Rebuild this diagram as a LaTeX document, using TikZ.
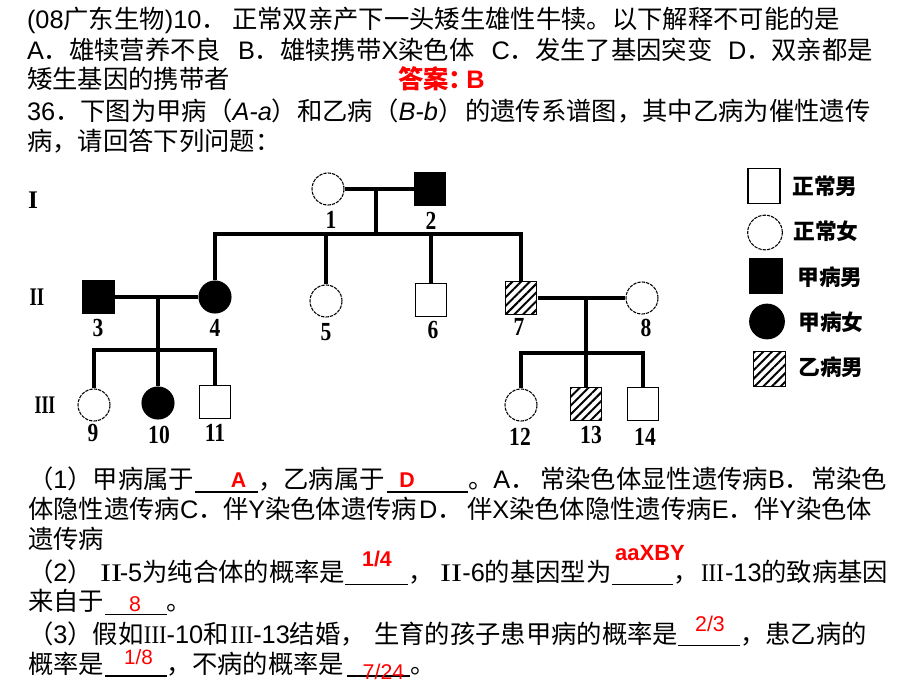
\documentclass[tikz,border=0pt]{standalone}
\usepackage{graphicx}
\usepackage{fontspec}
\setmainfont{Noto Sans CJK SC}
\newfontfamily\en{Liberation Sans}
\newfontfamily\ser{Liberation Serif}
\usetikzlibrary{patterns.meta}
\definecolor{ansred}{RGB}{255,0,0}
\newcommand{\E}[1]{{\en #1}}
\newcommand{\EI}[1]{{\en\itshape #1}}
\newcommand{\tallnum}[1]{\scalebox{0.95}[1.15]{#1}}
\tikzset{
 txt/.style={anchor=base west, inner sep=0pt, outer sep=0pt, font=\fontsize{19}{22}\selectfont},
 txte/.style={txt, anchor=base east},
 ans/.style={anchor=base, inner sep=0pt, text=ansred, font=\fontsize{16}{19}\selectfont\en},
 ansb/.style={ans, font=\fontsize{16}{19}\selectfont\en\bfseries},
 rn/.style={anchor=base, inner sep=0pt, font=\fontsize{19}{22}\selectfont\ser},
 blankline/.style={line width=0.9pt},
 link/.style={line width=2.4pt},
 male/.style={rectangle, draw, line width=1.2pt, minimum width=23.25pt, minimum height=24.75pt, inner sep=0pt, fill=white},
 female/.style={circle, draw, line width=0.8pt, dash pattern=on 2.5pt off 0.8pt, minimum size=24pt, inner sep=0pt, fill=white},
 maleA/.style={male, fill=black},
 femaleA/.style={circle, draw, fill=black, line width=0.8pt, minimum size=24pt, inner sep=0pt},
 maleB/.style={rectangle, draw, line width=1.2pt, minimum width=23.25pt, minimum height=24.75pt, inner sep=0pt, pattern={Lines[angle=45,distance=4.6pt,line width=1.5pt]}},
 legsize/.style={minimum width=24pt, minimum height=26pt},
 num/.style={inner sep=0pt, font=\fontsize{17}{20}\selectfont\ser\bfseries},
 gen/.style={inner sep=0pt, font=\fontsize{19}{22}\selectfont\ser\bfseries},
 legtxt/.style={anchor=west, inner sep=0pt, font=\fontsize{16.3}{19}\selectfont\bfseries},
}
\begin{document}
\begin{tikzpicture}[x=0.75pt,y=-0.75pt]
\fill[white] (0,0) rectangle (920,690);
\useasboundingbox (0,0) rectangle (920,690);

% ---------- top question text ----------
\node[txt] (q1a) at (27,28) {\E{(08}广东生物\E{)10}．};
\node[txt] (q1b) at (232,28) {正常双亲产下一头矮生雄性牛犊。以下解释不可能的是};
\node[txt] (q2a) at (27,59.5) {\E{A}．雄犊营养不良};
\node[txt] (q2b) at (238,59.5) {\E{B}．雄犊携带\E{X}染色体};
\node[txt] (q2c) at (491.5,59.5) {\E{C}．发生了基因突变};
\node[txt] (q2d) at (728,59.5) {\E{D}．双亲都是};
\node[txt] (q3a) at (27,88.5) {矮生基因的携带者};
\node[txt, text=ansred, font=\fontsize{19}{22}\selectfont\bfseries] (q3b) at (398,88.5) {答案：\kern-0.3em{\en\bfseries B}};
\node[txt] (q4a) at (27,120) {\E{36}．下图为甲病（\EI{A-a}）和乙病（\EI{B-b}）};
\node[txt] (q4b) at (465,120) {的遗传系谱图，其中乙病为催性遗传};
\node[txt] (q5) at (27,150) {病，请回答下列问题：};

% ---------- pedigree ----------
\node[gen] (gI) at (33,200) {I};
\node[gen] (gII) at (37,297) {\scalebox{0.75}[1]{II}};
\node[gen] (gIII) at (45,405) {\scalebox{0.7}[1]{III}};

\node[female] (p1) at (328,189) {};
\node[maleA] (p2) at (430,189) {};
\node[maleA] (p3) at (98.5,297) {};
\node[femaleA] (p4) at (215,297) {};
\node[female] (p5) at (326,301) {};
\node[male] (p6) at (431,300) {};
\node[maleB] (p7) at (521,298) {};
\node[female] (p8) at (642,298) {};
\node[female] (p9) at (94,405) {};
\node[femaleA] (p10) at (158,403) {};
\node[male] (p11) at (215,402) {};
\node[female] (p12) at (521,405) {};
\node[maleB] (p13) at (586,404) {};
\node[male] (p14) at (643,404) {};

\coordinate (m1) at (376,189);
\coordinate (s1) at (376,234);
\coordinate (m2) at (158,297);
\coordinate (s2) at (158,350);
\coordinate (m3) at (586,298);
\coordinate (s3) at (586,353);

\draw[link] (p1.east) -- (p2.west);
\draw[link] (m1) -- (s1);
\draw[link] (p4.north) |- (s1) -| (p7.north);
\draw[link] (p5.north) -- (p5.north |- s1);
\draw[link] (p6.north) -- (p6.north |- s1);

\draw[link] (p3.east) -- (p4.west);
\draw[link] (m2) -- (p10.north);
\draw[link] (p9.north) |- (s2) -| (p11.north);

\draw[link] (p7.east) -- (p8.west);
\draw[link] (m3) -- (p13.north);
\draw[link] (p12.north) |- (s3) -| (p14.north);

\node[num] (l1) at (331,220) {\tallnum{1}};
\node[num] (l2) at (431,221) {\tallnum{2}};
\node[num] (l3) at (98,328) {\tallnum{3}};
\node[num] (l4) at (215,328) {\tallnum{4}};
\node[num] (l5) at (326,332) {\tallnum{5}};
\node[num] (l6) at (433,330) {\tallnum{6}};
\node[num] (l7) at (519,327) {\tallnum{7}};
\node[num] (l8) at (646,328) {\tallnum{8}};
\node[num] (l9) at (93,433) {\tallnum{9}};
\node[num] (l10) at (159,435) {\tallnum{10}};
\node[num] (l11) at (215,433) {\tallnum{11}};
\node[num] (l12) at (520,437) {\tallnum{12}};
\node[num] (l13) at (591,435) {\tallnum{13}};
\node[num] (l14) at (645,437) {\tallnum{14}};

% ---------- legend ----------
\node[male, legsize] (g1) at (764,186) {};
\node[female, minimum size=26pt] (g2) at (765,232.5) {};
\node[maleA, legsize] (g3) at (766,276) {};
\node[femaleA, minimum size=26pt] (g4) at (767,321.5) {};
\node[maleB, legsize] (g5) at (769.5,369) {};
\node[legtxt] (t1) at (792,186.7) {正常男};
\node[legtxt] (t2) at (793,231.7) {正常女};
\node[legtxt] (t3) at (797,276.7) {甲病男};
\node[legtxt] (t4) at (798,321.7) {甲病女};
\node[legtxt] (t5) at (798,367) {乙病男};

% ---------- bottom questions ----------
\node[txt] (b1a) at (28,488) {（\E{1}）甲病属于};
\node[txt] (b1b) at (258,488) {，乙病属于};
\node[txt] (b1c) at (468,488) {。\E{A}．};
\node[txt] (b1d) at (540,488) {常染色体显性遗传病\E{B}．};
\node[txte] (b1e) at (887,488) {常染色};

\node[txt] (b2a) at (28,518.5) {体隐性遗传病\E{C}．};
\node[txt] (b2b) at (223,518.5) {伴\E{Y}染色体遗传病};
\node[txt] (b2bb) at (419,518.5) {\E{D}．};
\node[txt] (b2c) at (467,518.5) {伴\E{X}染色体隐性遗传病\E{E}．};
\node[txt] (b2d) at (754,518.5) {伴\E{Y}染色体};
\node[txt] (b3) at (28,548) {遗传病};

\node[txt] (b4a) at (28,581) {（\E{2}）};
\node[rn] (b4r) at (111,581) {\scalebox{1.3}[1]{II}};
\node[txte] (b4b) at (345,581) {\E{-5}为纯合体的概率是};
\node[txt] (b4c) at (408,581) {，};
\node[rn] (b4s) at (451,581) {\scalebox{1.3}[1]{II}};
\node[txte] (b4d) at (611.5,581) {\E{-6}的基因型为};
\node[txt] (b4e) at (673.3,581) {，};
\node[rn] (b4t) at (712.5,581) {\scalebox{0.9}[1]{III}};
\node[txt] (b4f) at (725,581) {\E{-13}的致病基因};

\node[txt] (b5a) at (28,610) {来自于};
\node[txt] (b5b) at (166.7,610) {。};

\node[txt] (b6a) at (28,643) {（\E{3}）假如};
\node[rn] (b6r) at (155.3,643) {\scalebox{0.9}[1]{III}};
\node[txt] (b6b) at (166.7,643) {\E{-10}和};
\node[rn] (b6s) at (242,643) {\scalebox{0.9}[1]{III}};
\node[txt] (b6c) at (253.3,643) {\E{-13}结婚，};
\node[txte] (b6d) at (678,643) {生育的孩子患甲病的概率是};
\node[txt] (b6e) at (740,643) {，患乙病的};

\node[txt] (b7a) at (28,673) {概率是};
\node[txt] (b7b) at (166.7,673) {，不病的概率是};
\node[txt] (b7c) at (410,673) {。};

% blanks
\draw[blankline] (195,492) -- (258,492);
\draw[blankline] (386.7,492) -- (468,492);
\draw[blankline] (345,584.5) -- (408,584.5);
\draw[blankline] (611.7,584.5) -- (673.3,584.5);
\draw[blankline] (105,614.5) -- (166.7,614.5);
\draw[blankline] (678.3,645.5) -- (740,645.5);
\draw[blankline] (105,676) -- (166.7,676);
\draw[blankline] (346.7,676) -- (410,676);

% answers
\node[ansb] (a1) at (238.5,487) {A};
\node[ansb] (a2) at (407,487) {D};
\node[ansb] (a3) at (377,566.5) {1/4};
\node[ansb, font=\fontsize{16.5}{19}\selectfont\en\bfseries] (a4) at (650,560) {aaXBY};
\node[ans] (a5) at (135,611) {8};
\node[ans] (a6) at (710,631.5) {2/3};
\node[ans, font=\fontsize{15.5}{18}\selectfont\en] (a7) at (138.5,664.5) {1/8};
\node[ans] (a8) at (383.5,679) {7/24};
\end{tikzpicture}
\end{document}
